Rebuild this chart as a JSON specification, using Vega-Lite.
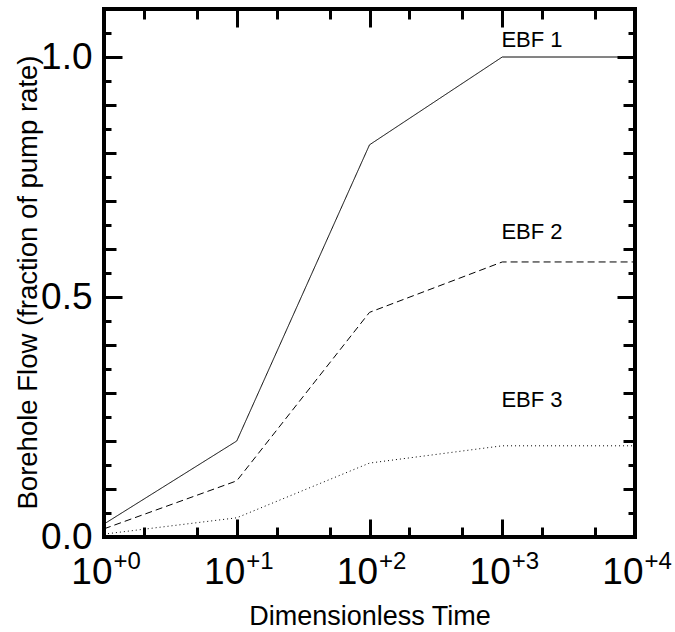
{
  "$schema": "https://vega.github.io/schema/vega-lite/v6.json",
  "width": 531,
  "height": 528,
  "autosize": {"type": "none"},
  "padding": {"left": 104, "top": 9, "right": 40, "bottom": 95},
  "background": "white",
  "config": {
    "view": {"stroke": "black", "strokeWidth": 4},
    "font": "Liberation Sans",
    "axis": {"grid": false, "domain": false, "tickColor": "black", "labelColor": "black", "titleColor": "black", "tickWidth": 3, "titleFontWeight": "normal"}
  },
  "datasets": {
    "curves": [
      {"series": "EBF 1", "t": 1, "flow": 0.027},
      {"series": "EBF 1", "t": 10, "flow": 0.2},
      {"series": "EBF 1", "t": 100, "flow": 0.817},
      {"series": "EBF 1", "t": 1000, "flow": 1.0},
      {"series": "EBF 1", "t": 10000, "flow": 1.0},
      {"series": "EBF 2", "t": 1, "flow": 0.017},
      {"series": "EBF 2", "t": 10, "flow": 0.117},
      {"series": "EBF 2", "t": 100, "flow": 0.468},
      {"series": "EBF 2", "t": 1000, "flow": 0.573},
      {"series": "EBF 2", "t": 10000, "flow": 0.573},
      {"series": "EBF 3", "t": 1, "flow": 0.006},
      {"series": "EBF 3", "t": 10, "flow": 0.04},
      {"series": "EBF 3", "t": 100, "flow": 0.154},
      {"series": "EBF 3", "t": 1000, "flow": 0.19},
      {"series": "EBF 3", "t": 10000, "flow": 0.19}
    ],
    "labels": [
      {"series": "EBF 1", "t": 1675, "flow": 1.035},
      {"series": "EBF 2", "t": 1675, "flow": 0.635},
      {"series": "EBF 3", "t": 1675, "flow": 0.285}
    ]
  },
  "resolve": {"axis": {"x": "independent", "y": "independent"}},
  "layer": [
    {
      "data": {"name": "curves"},
      "mark": {"type": "line", "color": "black", "strokeWidth": 1},
      "encoding": {
        "x": {"field": "t", "type": "quantitative",
              "scale": {"type": "log", "domain": [1, 10000], "nice": false},
              "axis": {"orient": "bottom", "labels": false, "title": null,
                       "values": [1,2,5,10,20,50,100,200,500,1000,2000,5000,10000],
                       "tickSize": {"condition": {"test": "abs(log(datum.value)/LN10 - round(log(datum.value)/LN10)) < 0.001", "value": -18}, "value": -10}}},
        "y": {"field": "flow", "type": "quantitative",
              "scale": {"domain": [0, 1.1], "nice": false, "zero": true},
              "axis": {"orient": "left", "labels": false, "title": null,
                       "values": [0,0.05,0.1,0.15,0.2,0.25,0.3,0.35,0.4,0.45,0.5,0.55,0.6,0.65,0.7,0.75,0.8,0.85,0.9,0.95,1.0,1.05,1.1],
                       "tickSize": {"condition": [
                         {"test": "abs(datum.value*2 - round(datum.value*2)) < 0.001", "value": -18},
                         {"test": "abs(datum.value*10 - round(datum.value*10)) < 0.001", "value": -12}
                       ], "value": -7}}},
        "detail": {"field": "series"},
        "strokeDash": {"field": "series", "type": "nominal",
                       "scale": {"domain": ["EBF 1", "EBF 2", "EBF 3"], "range": [[1, 0], [7, 4], [1, 3]]},
                       "legend": null}
      }
    },
    {
      "data": {"name": "labels"},
      "mark": {"type": "text", "color": "black", "fontSize": 22, "align": "center", "baseline": "middle", "font": "Liberation Sans"},
      "encoding": {
        "x": {"field": "t", "type": "quantitative",
              "axis": {"orient": "top", "labels": false, "title": null,
                       "values": [1,2,5,10,20,50,100,200,500,1000,2000,5000,10000],
                       "tickSize": {"condition": {"test": "abs(log(datum.value)/LN10 - round(log(datum.value)/LN10)) < 0.001", "value": -18}, "value": -10}}},
        "y": {"field": "flow", "type": "quantitative",
              "axis": {"orient": "right", "labels": false, "title": null,
                       "values": [0,0.05,0.1,0.15,0.2,0.25,0.3,0.35,0.4,0.45,0.5,0.55,0.6,0.65,0.7,0.75,0.8,0.85,0.9,0.95,1.0,1.05,1.1],
                       "tickSize": {"condition": [
                         {"test": "abs(datum.value*2 - round(datum.value*2)) < 0.001", "value": -18},
                         {"test": "abs(datum.value*10 - round(datum.value*10)) < 0.001", "value": -12}
                       ], "value": -7}}},
        "text": {"field": "series"}
      }
    },
    {
      "data": {"name": "labels"},
      "mark": {"type": "point", "opacity": 0},
      "encoding": {
        "x": {"field": "t", "type": "quantitative",
              "axis": {"orient": "bottom", "ticks": false, "values": [1, 10, 100, 1000, 10000],
                       "labelExpr": "'10'", "labelFontSize": 37, "labelAlign": "right", "labelOffset": 8,
                       "labelPadding": 17, "labelBaseline": "top", "labelFlush": false, "labelOverlap": false,
                       "title": "Dimensionless Time", "titleFontSize": 27, "titlePadding": 13}},
        "y": {"field": "flow", "type": "quantitative",
              "axis": {"orient": "left", "ticks": false, "values": [0, 0.5, 1.0],
                       "format": ".1f", "labelFontSize": 37, "labelPadding": 12, "labelBaseline": "middle", "labelFlush": false, "labelOverlap": false,
                       "title": "Borehole Flow (fraction of pump rate)", "titleFontSize": 27.5, "titlePadding": -2, "titleY": 273}}
      }
    },
    {
      "data": {"name": "labels"},
      "mark": {"type": "point", "opacity": 0},
      "encoding": {
        "x": {"field": "t", "type": "quantitative",
              "axis": {"orient": "bottom", "ticks": false, "values": [1, 10, 100, 1000, 10000],
                       "labelExpr": "'+' + round(log(datum.value)/LN10)", "labelFontSize": 24, "labelAlign": "left", "labelOffset": 9,
                       "labelPadding": 12, "labelBaseline": "top", "labelFlush": false, "labelOverlap": false,
                       "title": null}},
        "y": {"field": "flow", "type": "quantitative", "axis": null}
      }
    }
  ]
}
